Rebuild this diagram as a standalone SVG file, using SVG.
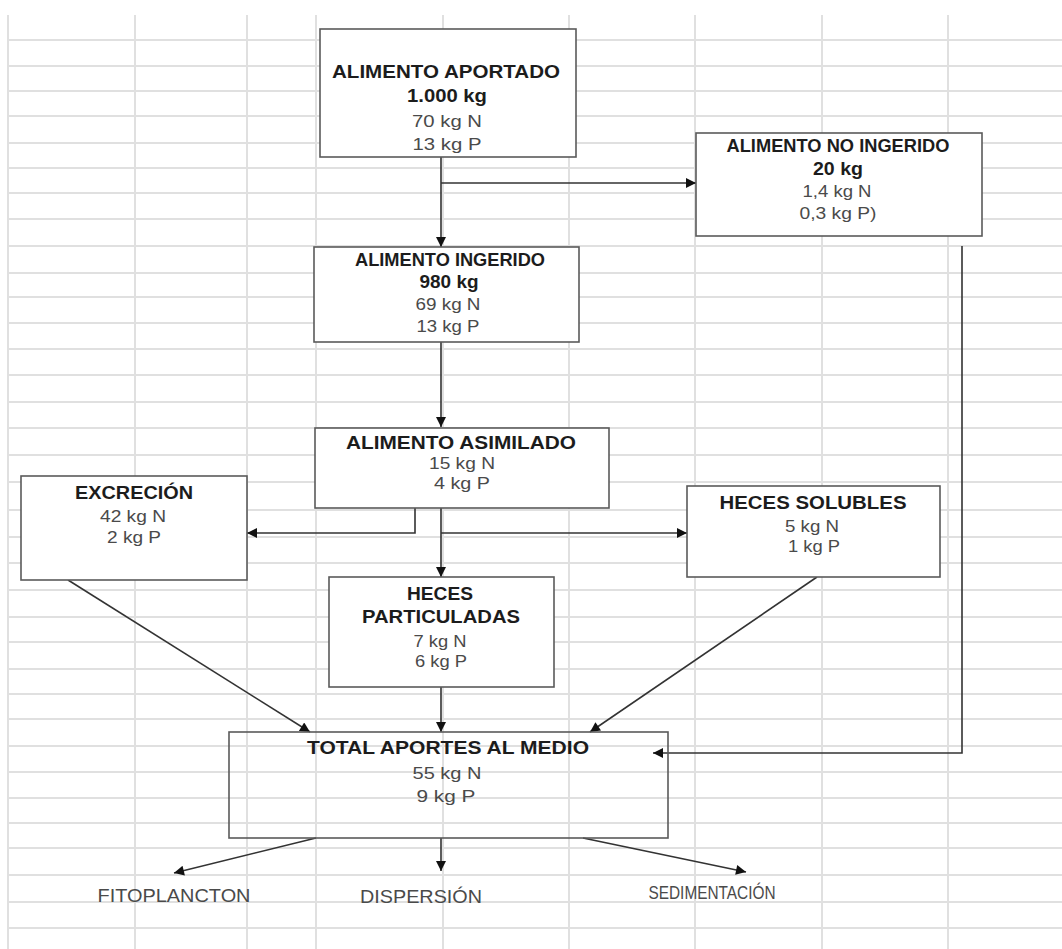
<svg xmlns="http://www.w3.org/2000/svg" width="1062" height="949" viewBox="0 0 1062 949">
<defs>
<style>
.grid line{stroke:#e0e0e0;stroke-width:2}
.box{fill:#fff;stroke:#5a5a5a;stroke-width:1.6}
.t{font-family:"Liberation Sans",Arial,sans-serif;font-weight:bold;font-size:18px;fill:#1c1c1c;text-anchor:middle}
.v{font-family:"Liberation Sans",Arial,sans-serif;font-size:17px;fill:#4a4a4a;text-anchor:middle}
.l{font-family:"Liberation Sans",Arial,sans-serif;font-size:19px;fill:#4a4a4a;text-anchor:middle}
.c{fill:none;stroke:#333;stroke-width:1.6}
</style>
<marker id="ah" viewBox="0 0 10 10" refX="10" refY="5" markerWidth="11" markerHeight="10" markerUnits="userSpaceOnUse" orient="auto">
<path d="M0,0 L10,5 L0,10 z" fill="#111"/>
</marker>
</defs>
<rect width="1062" height="949" fill="#fff"/>
<g class="grid">
<line x1="8" y1="40" x2="1062" y2="40"/><line x1="8" y1="66" x2="1062" y2="66"/><line x1="8" y1="91" x2="1062" y2="91"/><line x1="8" y1="116" x2="1062" y2="116"/><line x1="8" y1="143" x2="1062" y2="143"/><line x1="8" y1="168" x2="1062" y2="168"/><line x1="8" y1="193" x2="1062" y2="193"/><line x1="8" y1="219" x2="1062" y2="219"/><line x1="8" y1="246" x2="1062" y2="246"/><line x1="8" y1="273" x2="1062" y2="273"/><line x1="8" y1="297" x2="1062" y2="297"/><line x1="8" y1="323" x2="1062" y2="323"/><line x1="8" y1="349" x2="1062" y2="349"/><line x1="8" y1="375" x2="1062" y2="375"/><line x1="8" y1="402" x2="1062" y2="402"/><line x1="8" y1="428" x2="1062" y2="428"/><line x1="8" y1="455" x2="1062" y2="455"/><line x1="8" y1="482" x2="1062" y2="482"/><line x1="8" y1="510" x2="1062" y2="510"/><line x1="8" y1="537" x2="1062" y2="537"/><line x1="8" y1="563" x2="1062" y2="563"/><line x1="8" y1="590" x2="1062" y2="590"/><line x1="8" y1="617" x2="1062" y2="617"/><line x1="8" y1="642" x2="1062" y2="642"/><line x1="8" y1="669" x2="1062" y2="669"/><line x1="8" y1="694" x2="1062" y2="694"/><line x1="8" y1="719" x2="1062" y2="719"/><line x1="8" y1="746" x2="1062" y2="746"/><line x1="8" y1="772" x2="1062" y2="772"/><line x1="8" y1="798" x2="1062" y2="798"/><line x1="8" y1="823" x2="1062" y2="823"/><line x1="8" y1="848" x2="1062" y2="848"/><line x1="8" y1="875" x2="1062" y2="875"/><line x1="8" y1="902" x2="1062" y2="902"/><line x1="8" y1="928" x2="1062" y2="928"/>
<line x1="8" y1="15" x2="8" y2="949"/><line x1="135" y1="15" x2="135" y2="949"/><line x1="247" y1="15" x2="247" y2="949"/><line x1="316" y1="15" x2="316" y2="949"/><line x1="443" y1="15" x2="443" y2="949"/><line x1="569" y1="15" x2="569" y2="949"/><line x1="695" y1="15" x2="695" y2="949"/><line x1="822" y1="15" x2="822" y2="949"/><line x1="948" y1="15" x2="948" y2="949"/>
</g>
<g id="connectors">
<line class="c" x1="441" y1="157" x2="441" y2="247" marker-end="url(#ah)"/>
<line class="c" x1="441" y1="183" x2="696" y2="183" marker-end="url(#ah)"/>
<line class="c" x1="441" y1="342" x2="441" y2="427" marker-end="url(#ah)"/>
<polyline class="c" points="415,508 415,533 247,533" marker-end="url(#ah)"/>
<line class="c" x1="441" y1="533" x2="687" y2="533" marker-end="url(#ah)"/>
<line class="c" x1="441" y1="508" x2="441" y2="577" marker-end="url(#ah)"/>
<line class="c" x1="441" y1="687" x2="441" y2="732" marker-end="url(#ah)"/>
<line class="c" x1="68" y1="580" x2="310" y2="732" marker-end="url(#ah)"/>
<line class="c" x1="817" y1="577" x2="590" y2="732" marker-end="url(#ah)"/>
<polyline class="c" points="962,246 962,753 653,753" stroke="#555" marker-end="url(#ah)"/>
<line class="c" x1="316" y1="838" x2="174" y2="873" marker-end="url(#ah)"/>
<line class="c" x1="441" y1="838" x2="441" y2="871" marker-end="url(#ah)"/>
<line class="c" x1="583" y1="838" x2="746" y2="872" marker-end="url(#ah)"/>
</g>
<g id="aportado">
<rect class="box" x="320" y="29" width="256" height="128"/>
<text class="t" x="446" y="78" textLength="228" lengthAdjust="spacingAndGlyphs">ALIMENTO  APORTADO</text>
<text class="t" x="447" y="102" textLength="80" lengthAdjust="spacingAndGlyphs">1.000 kg</text>
<text class="v" x="447" y="127" textLength="70" lengthAdjust="spacingAndGlyphs">70 kg N</text>
<text class="v" x="447" y="150" textLength="69" lengthAdjust="spacingAndGlyphs">13 kg P</text>
</g>
<g id="no-ingerido">
<rect class="box" x="696" y="133" width="286" height="103"/>
<text class="t" x="838" y="152" textLength="223" lengthAdjust="spacingAndGlyphs">ALIMENTO  NO INGERIDO</text>
<text class="t" x="838" y="175" textLength="50" lengthAdjust="spacingAndGlyphs">20 kg</text>
<text class="v" x="837" y="197" textLength="69" lengthAdjust="spacingAndGlyphs">1,4 kg N</text>
<text class="v" x="838" y="219" textLength="77" lengthAdjust="spacingAndGlyphs">0,3 kg P)</text>
</g>
<g id="ingerido">
<rect class="box" x="314" y="247" width="265" height="95"/>
<text class="t" x="450" y="266" textLength="190" lengthAdjust="spacingAndGlyphs">ALIMENTO  INGERIDO</text>
<text class="t" x="449" y="288" textLength="59" lengthAdjust="spacingAndGlyphs">980 kg</text>
<text class="v" x="448" y="310" textLength="65" lengthAdjust="spacingAndGlyphs">69 kg N</text>
<text class="v" x="448" y="332" textLength="63" lengthAdjust="spacingAndGlyphs">13 kg P</text>
</g>
<g id="asimilado">
<rect class="box" x="315" y="428" width="294" height="80"/>
<text class="t" x="461" y="449" textLength="230" lengthAdjust="spacingAndGlyphs">ALIMENTO  ASIMILADO</text>
<text class="v" x="462" y="469" textLength="66" lengthAdjust="spacingAndGlyphs">15 kg N</text>
<text class="v" x="462" y="489" textLength="56" lengthAdjust="spacingAndGlyphs">4 kg P</text>
</g>
<g id="excrecion">
<rect class="box" x="21" y="476" width="226" height="104"/>
<text class="t" x="134" y="499" textLength="118" lengthAdjust="spacingAndGlyphs">EXCRECIÓN</text>
<text class="v" x="133" y="522" textLength="66" lengthAdjust="spacingAndGlyphs">42 kg N</text>
<text class="v" x="134" y="543" textLength="54" lengthAdjust="spacingAndGlyphs">2 kg P</text>
</g>
<g id="heces-solubles">
<rect class="box" x="687" y="486" width="253" height="91"/>
<text class="t" x="813" y="509" textLength="187" lengthAdjust="spacingAndGlyphs">HECES  SOLUBLES</text>
<text class="v" x="812" y="532" textLength="54" lengthAdjust="spacingAndGlyphs">5 kg N</text>
<text class="v" x="814" y="552" textLength="52" lengthAdjust="spacingAndGlyphs">1 kg P</text>
</g>
<g id="heces-particuladas">
<rect class="box" x="329" y="577" width="225" height="110"/>
<text class="t" x="440" y="600" textLength="66" lengthAdjust="spacingAndGlyphs">HECES</text>
<text class="t" x="441" y="623" textLength="158" lengthAdjust="spacingAndGlyphs">PARTICULADAS</text>
<text class="v" x="440" y="647" textLength="53" lengthAdjust="spacingAndGlyphs">7 kg N</text>
<text class="v" x="441" y="667" textLength="52" lengthAdjust="spacingAndGlyphs">6 kg P</text>
</g>
<g id="total">
<rect class="box" x="229" y="732" width="439" height="106" style="fill:none"/>
<text class="t" x="448" y="754" textLength="282" lengthAdjust="spacingAndGlyphs">TOTAL  APORTES  AL  MEDIO</text>
<text class="v" x="447" y="779" textLength="69" lengthAdjust="spacingAndGlyphs">55 kg N</text>
<text class="v" x="446" y="802" textLength="59" lengthAdjust="spacingAndGlyphs">9 kg P</text>
</g>
<g id="fitoplancton"><text class="l" x="174" y="902" textLength="153" lengthAdjust="spacingAndGlyphs">FITOPLANCTON</text></g>
<g id="dispersion"><text class="l" x="421" y="903" textLength="122" lengthAdjust="spacingAndGlyphs">DISPERSIÓN</text></g>
<g id="sedimentacion"><text class="l" x="712" y="899" textLength="127" lengthAdjust="spacingAndGlyphs">SEDIMENTACIÓN</text></g>
</svg>
